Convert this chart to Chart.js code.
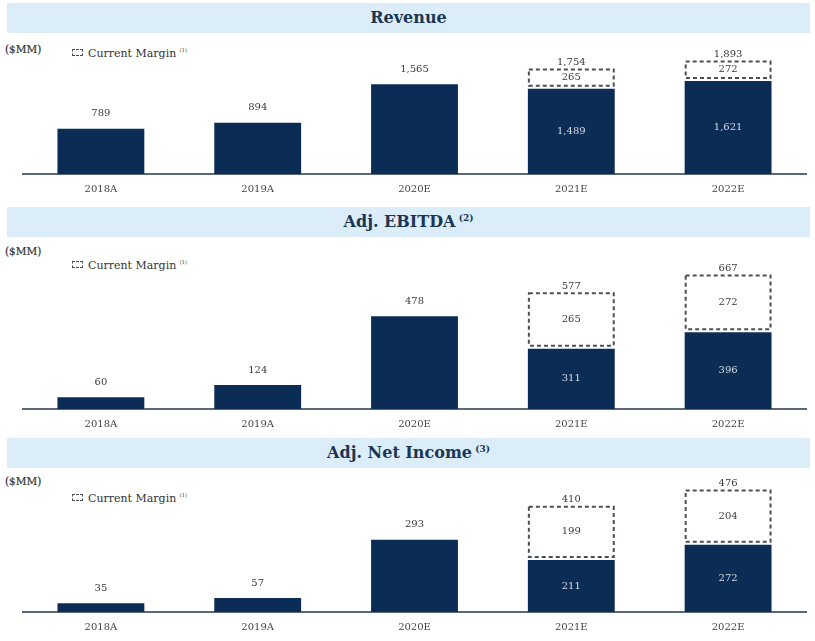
<!DOCTYPE html>
<html>
<head>
<meta charset="utf-8">
<script src="https://cdn.jsdelivr.net/npm/chart.js@4"></script>
<style>
  body { margin: 0; width: 815px; height: 641px; overflow: hidden; background: #fff; position: relative; font-family: "DejaVu Serif", serif; }
  .band { position: absolute; left: 7px; width: 803px; height: 30px; background: #dbedf8; color: #1b3553;
          font: bold 16px "DejaVu Serif", serif; text-align: center; line-height: 30px; }
  .band sup { font-size: 9px; vertical-align: 6px; line-height: 0; }
  .unit { position: absolute; left: 5px; font-size: 10.5px; color: #333; -webkit-text-stroke: 0.2px #333; }
  .legend { position: absolute; left: 72px; font-size: 11px; color: #333; }
  .legend .icon { display: inline-block; width: 9px; height: 5px; border: 1.5px dashed #4b4f5a; margin-right: 5px; vertical-align: 1px; }
  .legend sup { font-size: 5px; vertical-align: 5px; }
  canvas { position: absolute; left: 0; }
</style>
</head>
<body>
<div class="band" style="top:3px">Revenue</div>
<div class="unit" style="top:43px">($MM)</div>
<div class="legend" style="top:47px"><span class="icon"></span>Current Margin <sup>(1)</sup></div>
<canvas id="revenue" width="815" height="170" style="top:36px"></canvas>

<div class="band" style="top:207px">Adj. EBITDA<sup> (2)</sup></div>
<div class="unit" style="top:245px">($MM)</div>
<div class="legend" style="top:259px"><span class="icon"></span>Current Margin <sup>(1)</sup></div>
<canvas id="ebitda" width="815" height="201" style="top:240px"></canvas>

<div class="band" style="top:438px">Adj. Net Income<sup> (3)</sup></div>
<div class="unit" style="top:475px">($MM)</div>
<div class="legend" style="top:492px"><span class="icon"></span>Current Margin <sup>(1)</sup></div>
<canvas id="netIncome" width="815" height="173" style="top:471px"></canvas>

<script>
const years = ['2018A', '2019A', '2020E', '2021E', '2022E'];

const revenueBase = [789, 894, 1565, 1489, 1621];
const revenueMargin = [null, null, null, 265, 272];
const revenueTotal = [null, null, null, 1754, 1893];

const ebitdaBase = [60, 124, 478, 311, 396];
const ebitdaMargin = [null, null, null, 265, 272];
const ebitdaTotal = [null, null, null, 577, 667];

const netBase = [35, 57, 293, 211, 272];
const netMargin = [null, null, null, 199, 204];
const netTotal = [null, null, null, 410, 476];

const NAVY = '#0b2d55';
const fmt = v => v.toLocaleString('en-US');

// draws value labels and the dashed "current margin" boxes
const marginBoxes = {
    id: 'marginBoxes',
    afterDatasetsDraw(chart, args, opts) {
        const ctx = chart.ctx;
        const bars = chart.getDatasetMeta(0).data;
        const boxes = chart.getDatasetMeta(1).data;
        const base = chart.data.datasets[0].data;
        const margin = chart.data.datasets[1].data;
        ctx.save();
        ctx.font = '10px "DejaVu Serif"';
        ctx.textAlign = 'center';
        ctx.textBaseline = 'middle';
        bars.forEach((bar, i) => {
            if (margin[i] == null) {
                ctx.fillStyle = '#3a3a3a';
                ctx.fillText(fmt(base[i]), bar.x, bar.y - 15);
                return;
            }
            const box = boxes[i];
            // box sits a few px above the solid bar, like the original slide
            const y1 = box.y - 4, y2 = box.base - 3;
            ctx.setLineDash([4, 3]);
            ctx.lineWidth = 2;
            ctx.strokeStyle = '#4b4f5a';
            ctx.strokeRect(box.x - box.width / 2 + 1, y1, box.width - 2, y2 - y1);
            ctx.setLineDash([]);
            ctx.fillStyle = '#3a3a3a';
            ctx.fillText(fmt(margin[i]), box.x, (y1 + y2) / 2);
            ctx.fillText(fmt(opts.totals[i]), box.x, y1 - 7);
            ctx.fillStyle = '#d5dce4';
            ctx.fillText(fmt(base[i]), bar.x, (bar.y + bar.base) / 2);
        });
        ctx.restore();
    }
};

function makeChart(id, base, margin, totals, yMax) {
    return new Chart(document.getElementById(id), {
        type: 'bar',
        data: {
            labels: years,
            datasets: [
                { data: base, backgroundColor: NAVY, barPercentage: 0.554, categoryPercentage: 1 },
                { data: margin, backgroundColor: 'rgba(0,0,0,0)', borderWidth: 0, barPercentage: 0.554, categoryPercentage: 1 }
            ]
        },
        options: {
            responsive: false,
            animation: false,
            layout: { padding: { left: 22.5, right: 8.5, top: 0, bottom: 2 } },
            plugins: {
                legend: { display: false },
                tooltip: { enabled: false },
                marginBoxes: { totals: totals }
            },
            scales: {
                x: {
                    stacked: true,
                    grid: { display: false, drawTicks: false },
                    border: { display: true, color: '#5b6878', width: 2 },
                    ticks: { font: { family: 'DejaVu Serif', size: 10 }, color: '#444', padding: 9 }
                },
                y: { stacked: true, display: false, min: 0, max: yMax }
            }
        },
        plugins: [marginBoxes]
    });
}

makeChart('revenue', revenueBase, revenueMargin, revenueTotal, 2408);
makeChart('ebitda', ebitdaBase, ebitdaMargin, ebitdaTotal, 871);
makeChart('netIncome', netBase, netMargin, netTotal, 571);
</script>
</body>
</html>
